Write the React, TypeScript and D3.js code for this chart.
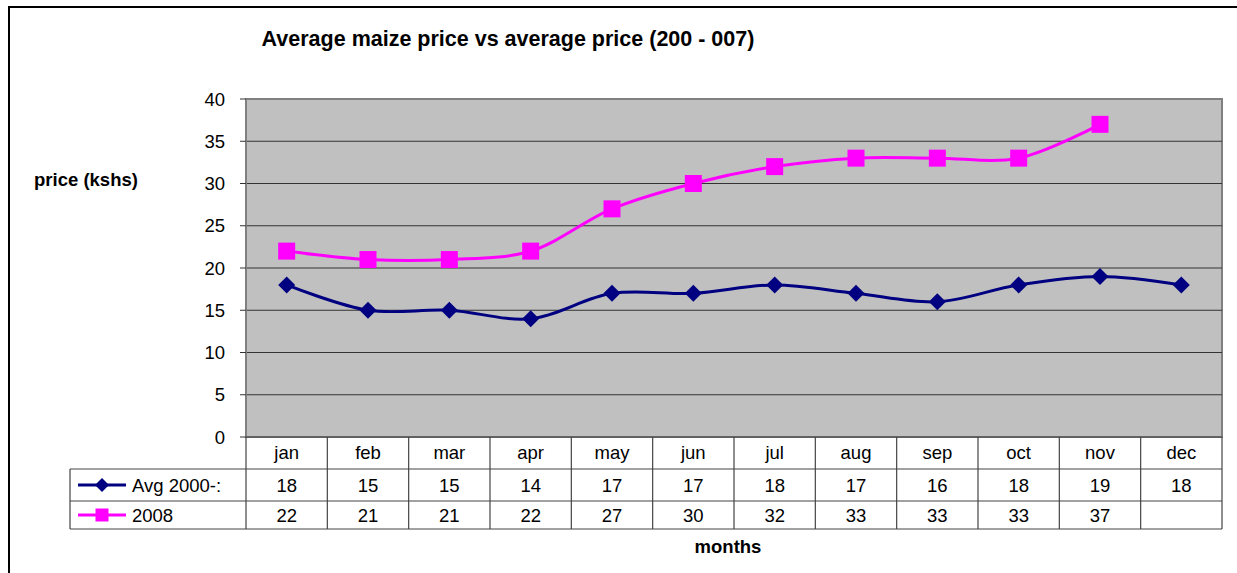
import { useEffect, useRef } from "react";
import * as d3 from "d3";

const months = ["jan", "feb", "mar", "apr", "may", "jun", "jul", "aug", "sep", "oct", "nov", "dec"];
const avgValues = [18, 15, 15, 14, 17, 17, 18, 17, 16, 18, 19, 18];
const values2008 = [22, 21, 21, 22, 27, 30, 32, 33, 33, 33, 37, null];
const yTicks = [0, 5, 10, 15, 20, 25, 30, 35, 40];

const W = 1237;
const H = 573;

// diamond / square marker paths, w = full width
const diamond = (w: number) => `M0,${-w / 2}L${w / 2},0L0,${w / 2}L${-w / 2},0Z`;
const square = (w: number) => `M${-w / 2},${-w / 2}h${w}v${w}h${-w}Z`;

export default function App() {
  const ref = useRef<SVGSVGElement>(null);

  useEffect(() => {
    const svg = d3.select(ref.current);
    svg.selectAll("*").remove();

    const font = "Liberation Sans, Arial, sans-serif";
    const fs = 18.5;
    const left = 246, right = 1222, top = 99, bottom = 437;
    const tableLeft = 70;
    const rowH = [32, 32, 28];

    const x = d3.scaleBand().domain(months).range([left, right]);
    const y = d3.scaleLinear().domain([0, 40]).range([bottom, top]);

    // outer frame
    svg.append("rect").attr("x", 9).attr("y", 7).attr("width", W + 20).attr("height", H + 20)
      .attr("fill", "#fff").attr("stroke", "#000").attr("stroke-width", 2);

    svg.append("text").attr("x", 508).attr("y", 46).attr("text-anchor", "middle")
      .attr("font-family", font).attr("font-size", 21.5).attr("font-weight", "bold")
      .text("Average maize price vs average price (200 - 007)");

    // plot area
    svg.append("rect").attr("x", left).attr("y", top).attr("width", right - left).attr("height", bottom - top)
      .attr("fill", "#c0c0c0").attr("stroke", "#808080").attr("stroke-width", 2);

    svg.append("g").selectAll("line").data(yTicks.filter((d) => d > 0 && d < 40)).join("line")
      .attr("x1", left).attr("x2", right).attr("y1", (d) => y(d)).attr("y2", (d) => y(d))
      .attr("stroke", "#333").attr("stroke-width", 1.2);

    // y axis
    const ya = svg.append("g");
    ya.append("line").attr("x1", left).attr("x2", left).attr("y1", top).attr("y2", bottom).attr("stroke", "#808080").attr("stroke-width", 2);
    ya.selectAll("line.t").data(yTicks).join("line").attr("class", "t")
      .attr("x1", left - 6).attr("x2", left).attr("y1", (d) => y(d)).attr("y2", (d) => y(d))
      .attr("stroke", "#333");
    ya.selectAll("text").data(yTicks).join("text")
      .attr("x", left - 21).attr("y", (d) => y(d)).attr("dy", "0.36em").attr("text-anchor", "end")
      .attr("font-family", font).attr("font-size", fs).text((d) => d);

    svg.append("text").attr("x", 86).attr("y", 186).attr("text-anchor", "middle")
      .attr("font-family", font).attr("font-size", 18.5).attr("font-weight", "bold").text("price (kshs)");

    // data table
    const r1 = bottom + rowH[0], r2 = r1 + rowH[1], r3 = r2 + rowH[2];
    const tg = svg.append("g").attr("stroke", "#444").attr("stroke-width", 1.2);
    tg.append("line").attr("x1", left).attr("x2", right).attr("y1", bottom).attr("y2", bottom);
    [r1, r2, r3].forEach((yy) => tg.append("line").attr("x1", tableLeft).attr("x2", right).attr("y1", yy).attr("y2", yy));
    tg.append("line").attr("x1", tableLeft).attr("x2", tableLeft).attr("y1", r1).attr("y2", r3);
    tg.selectAll("line.v").data(months).join("line").attr("class", "v")
      .attr("x1", (d) => (x(d) as number) + x.bandwidth()).attr("x2", (d) => (x(d) as number) + x.bandwidth())
      .attr("y1", bottom).attr("y2", r3);
    tg.append("line").attr("x1", left).attr("x2", left).attr("y1", bottom).attr("y2", r3);

    const cell = (data: (string | number | null)[], yy: number) =>
      svg.append("g").selectAll("text").data(months).join("text")
        .attr("x", (d) => (x(d) as number) + x.bandwidth() / 2).attr("y", yy).attr("text-anchor", "middle")
        .attr("font-family", font).attr("font-size", fs)
        .text((d, i) => (data[i] == null ? "" : String(data[i])));
    cell(months, bottom + 22);
    cell(avgValues, r1 + 23);
    cell(values2008, r2 + 21);

    const series = [
      { name: "Avg 2000-:", values: avgValues, color: "#000080", mark: diamond, w: 17, lw: 14, row: r1, h: rowH[1] },
      { name: "2008", values: values2008, color: "#ff00ff", mark: square, w: 17, lw: 13, row: r2, h: rowH[2] },
    ];

    series.forEach((s) => {
      const pts = s.values
        .map((v, i) => ({ m: months[i], v }))
        .filter((p) => p.v != null) as { m: string; v: number }[];
      const cx = (m: string) => (x(m) as number) + x.bandwidth() / 2;
      const line = d3.line<{ m: string; v: number }>().x((d) => cx(d.m)).y((d) => y(d.v)).curve(d3.curveCatmullRom.alpha(0.5));
      svg.append("path").attr("d", line(pts)).attr("fill", "none").attr("stroke", s.color).attr("stroke-width", 3);
      svg.append("g").selectAll("path").data(pts).join("path")
        .attr("transform", (d) => `translate(${cx(d.m)},${y(d.v)})`)
        .attr("d", s.mark(s.w)).attr("fill", s.color);

      // legend in table
      const ly = s.row + s.h / 2;
      svg.append("line").attr("x1", 78).attr("x2", 126).attr("y1", ly).attr("y2", ly).attr("stroke", s.color).attr("stroke-width", 3);
      svg.append("path").attr("transform", `translate(102,${ly})`).attr("d", s.mark(s.lw)).attr("fill", s.color);
      svg.append("text").attr("x", 132).attr("y", ly).attr("dy", "0.36em")
        .attr("font-family", font).attr("font-size", fs).text(s.name);
    });

    svg.append("text").attr("x", 728).attr("y", 553).attr("text-anchor", "middle")
      .attr("font-family", font).attr("font-size", 18.5).attr("font-weight", "bold").text("months");
  }, []);

  return <svg ref={ref} width={W} height={H} style={{ position: "absolute", left: 0, top: 0 }} />;
}
